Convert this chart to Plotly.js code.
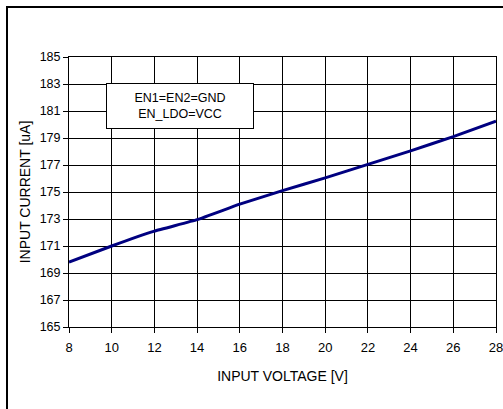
<!DOCTYPE html>
<html>
<head>
<meta charset="utf-8">
<script src="https://cdn.plot.ly/plotly-3.0.1.min.js"></script>
<style>
  html, body { margin: 0; padding: 0; background: #fff; }
  #wrap { position: relative; width: 503px; height: 409px; overflow: hidden; }
  #chart { position: absolute; left: 0; top: 0; width: 503px; height: 409px; }
  #frame { position: absolute; left: 6px; top: 6px; width: 600px; height: 600px;
           border-left: 2px solid #000; border-top: 2px solid #000; pointer-events: none; }
</style>
</head>
<body>
<div id="wrap">
  <div id="chart"></div>
  <div id="frame"></div>
</div>
<script>
const inputVoltage = [8, 10, 12, 14, 16, 18, 20, 22, 24, 26, 28];
const inputCurrent = [169.8, 171.0, 172.1, 172.95, 174.1, 175.1, 176.05, 177.05, 178.05, 179.1, 180.25];
const xTicks = [8, 10, 12, 14, 16, 18, 20, 22, 24, 26, 28];
const yTicks = [165, 167, 169, 171, 173, 175, 177, 179, 181, 183, 185];
const noteText = 'EN1=EN2=GND<br>EN_LDO=VCC';

const fontFam = '"Liberation Sans", Arial, sans-serif';

Plotly.newPlot('chart', [{
  x: inputVoltage,
  y: inputCurrent,
  type: 'scatter',
  mode: 'lines',
  line: { color: '#000080', width: 3, shape: 'spline', smoothing: 0.3 },
  hoverinfo: 'skip'
}], {
  width: 503,
  height: 409,
  margin: { l: 69, r: 7, t: 57, b: 82 },
  paper_bgcolor: '#fff',
  plot_bgcolor: '#fff',
  showlegend: false,
  font: { family: fontFam, color: '#000', size: 13 },
  xaxis: {
    range: [8, 28],
    tickvals: xTicks,
    ticktext: xTicks.map(String),
    showgrid: true, gridcolor: '#000', gridwidth: 1,
    zeroline: false,
    showline: true, linecolor: '#000', linewidth: 1, mirror: true,
    ticks: 'outside', ticklen: 5, tickcolor: '#000',
    ticklabeloverflow: 'allow',
    ticklabelstandoff: 3,
    tickfont: { family: fontFam, size: 13, color: '#000' },
    title: { text: 'INPUT VOLTAGE [V]', font: { family: fontFam, size: 14, color: '#000' }, standoff: 17 }
  },
  yaxis: {
    range: [165, 185],
    tickvals: yTicks,
    ticktext: yTicks.map(String),
    showgrid: true, gridcolor: '#000', gridwidth: 1,
    zeroline: false,
    showline: true, linecolor: '#000', linewidth: 1, mirror: true,
    ticks: 'outside', ticklen: 5, tickcolor: '#000',
    ticklabeloverflow: 'allow',
    tickfont: { family: fontFam, size: 12.5, color: '#000' },
    title: { text: 'INPUT CURRENT [uA]', font: { family: fontFam, size: 14, color: '#000' }, standoff: 5 }
  },
  annotations: [{
    xref: 'paper', yref: 'paper',
    x: 0.26, y: 0.8185,
    xanchor: 'center', yanchor: 'middle',
    text: noteText,
    showarrow: false,
    align: 'center',
    font: { family: fontFam, size: 12.5, color: '#000' },
    bgcolor: '#fff',
    bordercolor: '#000',
    borderwidth: 1,
    width: 144,
    height: 42
  }]
}, { staticPlot: true, displayModeBar: false });
</script>
</body>
</html>
